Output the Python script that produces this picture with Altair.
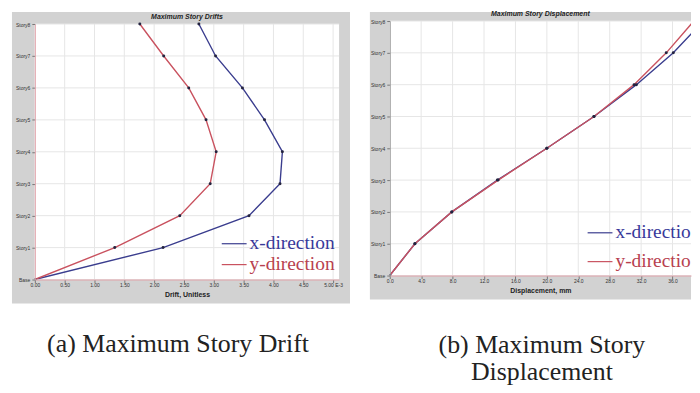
import altair as alt
import pandas as pd

# ---- data ----
stories = ["Base", "Story1", "Story2", "Story3", "Story4", "Story5", "Story6", "Story7", "Story8"]
story_order = stories[::-1]
directions = ["x-direction", "y-direction"]

drift_x = [0.00, 2.15, 3.59, 4.11, 4.15, 3.85, 3.48, 3.03, 2.75]   # x 1e-3
drift_y = [0.00, 1.34, 2.43, 2.94, 3.04, 2.87, 2.58, 2.16, 1.76]

disp_x = [0.0, 3.2, 7.9, 13.7, 20.0, 26.0, 31.4, 36.1, 39.9]       # mm
disp_y = [0.0, 3.2, 7.9, 13.8, 20.0, 26.0, 31.1, 35.2, 38.7]

drift_ticks = [0.0, 0.5, 1.0, 1.5, 2.0, 2.5, 3.0, 3.5, 4.0, 4.5, 5.0]
drift_tick_labels = ["0.00", "0.50", "1.00", "1.50", "2.00", "2.50", "3.00",
                     "3.50", "4.00", "4.50", "5.00 E-3"]
disp_ticks = [0, 4, 8, 12, 16, 20, 24, 28, 32, 36]
disp_tick_labels = ["0.0", "4.0", "8.0", "12.0", "16.0", "20.0", "24.0", "28.0", "32.0", "36.0"]

titles = ["Maximum Story Drifts", "Maximum Story Displacement"]
x_titles = ["Drift, Unitless", "Displacement, mm"]
captions = [["(a) Maximum Story Drift"], ["(b) Maximum Story", "Displacement"]]

LINE_COLORS = ["#3a3d8e", "#c9525f"]
TEXT_COLORS = ["#38399a", "#b8414f"]
GRAY = "#d2d2d2"
GRID = "#e6e6e6"
AXIS_RED = "#e2a3aa"
one = pd.DataFrame({"k": [0]})


def label_expr(ticks, labels):
    t = ",".join(repr(float(v)) for v in ticks)
    l = ",".join("'" + s + "'" for s in labels)
    return f"[{l}][indexof([{t}], datum.value)]"


def panel(vx, vy, ticks, tick_labels, xmax, width, height, ytop, title, xtitle,
          gray_box, title_y, legend_xy, legend_limit, caption, caption_xy, left_domain):
    xscale = alt.Scale(domain=[0, xmax], nice=False, zero=True)
    yscale = alt.Scale(type="point", padding=0, range=[ytop, height])

    xaxis = alt.Axis(values=ticks, labelExpr=label_expr(ticks, tick_labels),
                     grid=False, zindex=1, labelFontSize=5, labelFont="Liberation Sans",
                     labelColor="#333333", tickSize=3, tickColor="#777777",
                     domainColor=AXIS_RED, domainWidth=1, labelPadding=0,
                     title=xtitle, titleFontSize=7, titleFont="Liberation Sans",
                     titleFontWeight="bold", titleColor="#222222", titlePadding=3,
                     labelFlush=False, labelOverlap=False)
    yaxis = alt.Axis(grid=False, zindex=1, labelFontSize=5, labelFont="Liberation Sans",
                     labelColor="#333333", tickSize=3, tickColor="#777777",
                     domainColor=left_domain, labelPadding=2, title=None,
                     labelOverlap=False)

    gx1, gx2, gy1, gy2 = gray_box
    gray = alt.Chart(one).mark_rect(color=GRAY).encode(
        x=alt.value(gx1), x2=alt.value(gx2), y=alt.value(gy1), y2=alt.value(gy2))
    white = alt.Chart(one).mark_rect(color="white").encode(
        x=alt.value(0), x2=alt.value(width), y=alt.value(ytop), y2=alt.value(height))

    vgrid = alt.Chart(pd.DataFrame({"value": ticks})).mark_rule(color=GRID, strokeWidth=1).encode(
        x=alt.X("value:Q", scale=xscale, axis=xaxis), y=alt.value(ytop), y2=alt.value(height))
    hgrid = alt.Chart(pd.DataFrame({"story": stories})).mark_rule(color=GRID, strokeWidth=1).encode(
        y=alt.Y("story:N", sort=story_order, scale=yscale, axis=yaxis),
        x=alt.value(0), x2=alt.value(width))

    rows = []
    for d, vals in zip(directions, [vx, vy]):
        for i, (s, v) in enumerate(zip(stories, vals)):
            rows.append({"story": s, "value": v, "direction": d, "idx": i})
    df = pd.DataFrame(rows)

    lines = alt.Chart(df).mark_line(strokeWidth=1.4, clip=True).encode(
        x=alt.X("value:Q", scale=xscale, axis=xaxis),
        y=alt.Y("story:N", sort=story_order, scale=yscale, axis=yaxis),
        color=alt.Color("direction:N", scale=alt.Scale(domain=directions, range=LINE_COLORS),
                        legend=None),
        order=alt.Order("idx:Q"))
    pts = alt.Chart(df).mark_circle(size=9, color="#23233f", opacity=1, clip=True).encode(
        x=alt.X("value:Q", scale=xscale, axis=xaxis),
        y=alt.Y("story:N", sort=story_order, scale=yscale, axis=yaxis))

    lx, ly1, ly2 = legend_xy
    legend_layers = []
    for name, col, tcol, ly in zip(directions, LINE_COLORS, TEXT_COLORS, [ly1, ly2]):
        legend_layers.append(alt.Chart(one).mark_rule(color=col, strokeWidth=1.2).encode(
            x=alt.value(lx), x2=alt.value(lx + 25), y=alt.value(ly + 1)))
        legend_layers.append(alt.Chart(one).mark_text(
            text=name, font="Liberation Serif", fontSize=19.5, color=tcol,
            align="left", baseline="middle", limit=legend_limit, ellipsis="\u200b").encode(
            x=alt.value(lx + 28), y=alt.value(ly)))

    ttl = alt.Chart(one).mark_text(
        text=title, font="Liberation Sans", fontSize=7, fontStyle="italic",
        fontWeight="bold", color="#222222", baseline="middle").encode(
        x=alt.value(width / 2), y=alt.value(title_y))

    cx, cy = caption_xy
    cap = alt.Chart(one).mark_text(
        text=caption, font="Liberation Serif", fontSize=26, color="#222222",
        baseline="middle", lineHeight=27).encode(x=alt.value(cx), y=alt.value(cy))

    return alt.layer(gray, white, vgrid, hgrid, lines, pts, *legend_layers, ttl, cap).properties(
        width=width, height=height)


left = panel(drift_x, drift_y, drift_ticks, drift_tick_labels, 5.1, 306, 260, 3,
             titles[0], x_titles[0], (-23, 317, -9, 284), -4, (188, 223, 244), 200,
             captions[0], (144, 325), AXIS_RED)
right = panel(disp_x, disp_y, disp_ticks, disp_tick_labels, 38.35, 303, 256, 0,
              titles[1], x_titles[1], (-20, 303, -9, 280), -7, (199, 212, 241), 76,
              captions[1], (153, 326), "#9a9a9a")

chart = alt.hconcat(left, right, spacing=18).properties(
    padding={"left": 3, "top": 0, "right": 0, "bottom": 0},
    background="white",
).configure_view(stroke="transparent")

chart.save("out.html", embed_options={"renderer": "svg", "actions": False})
